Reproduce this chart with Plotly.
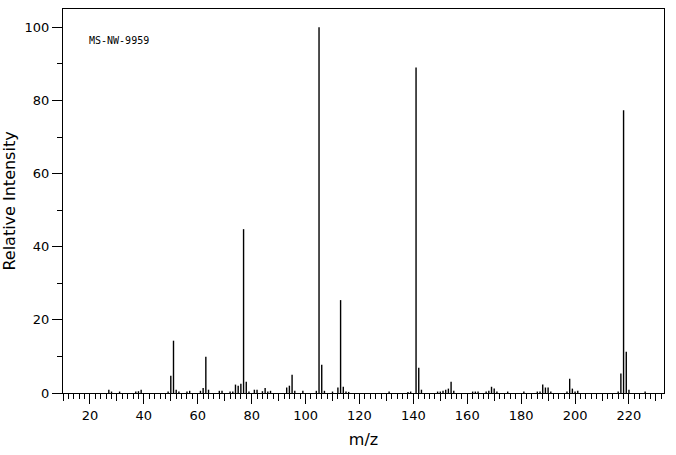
import plotly.graph_objects as go

# mass spectrum
mz = [27, 28, 31, 37, 38, 39, 49, 50, 51, 52, 53, 56, 57, 61, 62, 63, 64, 68, 69,
      72, 73, 74, 75, 76, 77, 78, 79, 81, 82, 84, 85, 86, 87, 93, 94, 95, 96, 99,
      104, 105, 106, 107, 110, 112, 113, 114, 115, 116, 131, 138, 139, 141, 142,
      143, 149, 150, 151, 152, 153, 154, 155, 162, 163, 164, 167, 168, 169, 170,
      171, 175, 181, 186, 187, 188, 189, 190, 191, 197, 198, 199, 200, 201, 216,
      217, 218, 219, 220, 226]
intensity = [0.9, 0.4, 0.4, 0.4, 0.5, 0.9, 0.4, 4.7, 14.3, 0.9, 0.4, 0.4, 0.6, 0.6,
             1.4, 9.9, 0.9, 0.6, 0.6, 0.4, 0.4, 2.3, 2.0, 2.5, 44.8, 3.1, 0.4, 0.9,
             0.9, 0.5, 1.4, 0.4, 0.6, 1.5, 2.0, 5.0, 0.6, 0.6, 0.6, 100, 7.7, 0.6,
             0.4, 1.5, 25.4, 1.7, 0.4, 0.3, 0.4, 0.3, 0.4, 89.0, 6.9, 0.9, 0.4, 0.4,
             0.6, 0.9, 1.2, 3.1, 0.6, 0.4, 0.4, 0.4, 0.4, 0.6, 1.7, 1.2, 0.4, 0.4,
             0.4, 0.4, 0.4, 2.3, 1.5, 1.5, 0.4, 0.4, 3.9, 1.2, 0.4, 0.6, 0.4, 5.3,
             77.3, 11.3, 0.9, 0.4]

label = "MS-NW-9959"
x_range = [10, 233]
y_range = [0, 105]

FONT = "DejaVu Sans"

xs, ys = [], []
for m, i in zip(mz, intensity):
    xs += [m, m, None]
    ys += [0, i, None]

fig = go.Figure()
fig.add_trace(go.Scatter(x=xs, y=ys, mode="lines",
                         line=dict(color="black", width=1.4),
                         hoverinfo="skip", showlegend=False))
# dummy trace so the 10-step tick axis is drawn
fig.add_trace(go.Scatter(x=[None], y=[None], xaxis="x2", showlegend=False))

fig.update_layout(
    width=676, height=455,
    margin=dict(l=63, r=12, t=9, b=62),
    paper_bgcolor="white", plot_bgcolor="white",
    font=dict(family=FONT, color="black", size=13),
    xaxis=dict(range=x_range, showgrid=False, zeroline=False, automargin=False,
               showline=True, linecolor="black", linewidth=1, mirror=True,
               ticks="outside", tick0=0, dtick=20, ticklen=10, tickcolor="black",
               minor=dict(dtick=2, tick0=0, ticks="outside", ticklen=5,
                          tickcolor="black", showgrid=False),
               tickfont=dict(size=13),
               title=dict(text="m/z", font=dict(size=16), standoff=12)),
    xaxis2=dict(range=x_range, overlaying="x", side="bottom", showgrid=False,
                automargin=False, zeroline=False, ticks="outside", tick0=0,
                dtick=10, ticklen=7, tickcolor="black", showticklabels=False),
    yaxis=dict(range=y_range, showgrid=False, zeroline=False, automargin=False,
               showline=True, linecolor="black", linewidth=1, mirror=True,
               ticks="outside", tick0=0, dtick=20, ticklen=10, tickcolor="black",
               minor=dict(dtick=10, tick0=0, ticks="outside", ticklen=5,
                          tickcolor="black", showgrid=False),
               tickfont=dict(size=13),
               title=dict(text="Relative Intensity", font=dict(size=16), standoff=6)),
    annotations=[dict(text=label, xref="paper", yref="paper", x=0.04, y=0.917,
                      xanchor="left", yanchor="middle", showarrow=False,
                      font=dict(family="DejaVu Sans Mono", size=10))],
)

# drop the browser's default page margin so the figure sits at 0,0
fig.write_html("out.html", config={"displayModeBar": False},
               post_script="document.body.style.margin='0';")
